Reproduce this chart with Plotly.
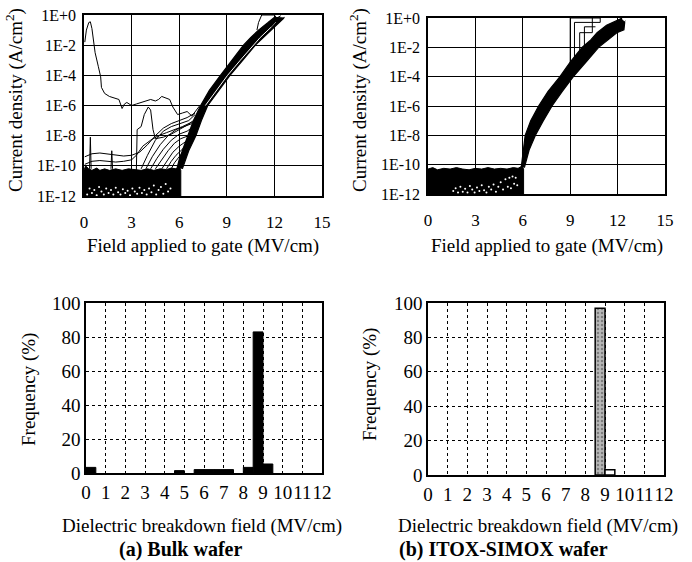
import plotly.graph_objects as go

W, H = 692, 562
SERIF = "Liberation Serif, Times New Roman, serif"

# ---------------- data: (a) Bulk wafer, I-E curves (log10 of J in A/cm2) ----------------
bulk_floor_E = [0.0, 0.1, 0.3, 0.5, 0.8, 1.0, 1.3, 1.6, 2.0, 2.4, 2.8, 3.2, 3.6, 4.0, 4.4, 4.8, 5.2, 5.5, 5.8, 6.0, 6.1]
bulk_floor_logJ = [-10.3, -10.0, -10.2, -10.3, -10.15, -10.3, -10.2, -10.3, -10.2, -10.3, -10.2, -10.25, -10.3, -10.2, -10.3, -10.2, -10.25, -10.15, -10.2, -10.1, -10.3]
bulk_speck_E = [0.2, 0.35, 0.5, 0.65, 0.8, 0.95, 1.1, 1.25, 1.4, 1.55, 1.7, 1.85, 2.0, 2.15, 2.3, 2.45, 2.6, 2.75, 2.9, 3.05, 3.2, 3.35, 3.5, 3.65, 3.8, 3.95, 4.1, 4.25, 4.4, 4.55, 4.7, 4.85, 5.0, 5.15, 5.3, 5.45]
bulk_speck_logJ = [-11.9, -11.5, -11.8, -11.6, -11.95, -11.4, -11.7, -11.9, -11.5, -11.8, -11.6, -11.9, -11.45, -11.75, -11.9, -11.55, -11.8, -11.65, -11.95, -11.5, -11.7, -11.85, -11.45, -11.8, -11.6, -11.9, -11.5, -11.75, -11.3, -11.9, -11.6, -11.4, -11.85, -11.2, -11.7, -11.5]
bulk_band_left_E = [5.85, 6.0, 6.3, 6.55, 6.9, 7.35, 7.9, 8.6, 9.3, 10.05, 10.5, 11.0, 11.6, 12.0]
bulk_band_left_logJ = [-10.2, -9.6, -8.7, -8.0, -7.0, -6.0, -5.0, -4.0, -3.0, -2.0, -1.5, -1.0, -0.5, -0.15]
bulk_band_right_E = [12.6, 12.3, 11.8, 11.3, 10.8, 10.0, 9.2, 8.5, 7.8, 7.4, 7.05, 6.6, 6.2]
bulk_band_right_logJ = [-0.2, -0.5, -1.0, -1.5, -2.0, -3.0, -4.0, -5.0, -6.0, -7.0, -8.0, -9.0, -10.2]
bulk_thread_E = [7.65, 8.35, 9.05, 9.85, 10.65, 11.1, 11.6, 12.1]
bulk_thread_logJ = [-6.0, -5.0, -4.0, -3.0, -2.0, -1.5, -1.0, -0.5]
bulk_lines_E = [
    [0.05, 0.15, 0.3, 0.4, 0.5, 0.6, 0.7, 0.9, 1.05, 1.1, 1.3, 1.6, 2.0, 2.2, 2.4, 2.55, 2.7, 3.0, 3.3, 3.6, 3.9, 4.2, 4.5, 4.7, 4.9, 5.1, 5.4, 5.6, 5.9, 6.2, 6.5, 6.8, 7.1, 7.3],
    [3.3, 3.35, 3.6, 3.8, 4.05, 4.2, 4.35, 4.5, 5.0, 5.5, 6.0, 6.5, 6.9],
    [0.05, 0.5, 1.0, 1.5, 2.0, 2.5, 3.0, 3.5, 4.0, 4.5, 5.0, 5.5, 6.0, 6.5, 7.0],
    [0.05, 0.5, 1.0, 1.5, 2.0, 2.5, 3.0, 3.3, 3.7, 4.2, 4.7, 5.2, 5.7, 6.2, 6.8],
    [3.6, 4.0, 4.5, 5.0, 5.5, 6.0, 6.6, 7.0],
    [3.9, 4.3, 4.8, 5.3, 5.8, 6.3, 6.8],
    [4.2, 4.6, 5.0, 5.5, 6.0, 6.5, 6.9],
    [4.5, 4.9, 5.3, 5.7, 6.1, 6.6, 6.8],
    [4.9, 5.2, 5.6, 6.0, 6.4, 6.7],
    [5.2, 5.5, 5.8, 6.2, 6.5],
    [5.5, 5.7, 6.0, 6.3],
    [0.35, 0.4, 0.45],
    [1.7, 1.75, 1.8],
    [11.5, 12.0, 12.4],
    [11.8, 12.2, 12.65],
    [10.9, 11.0, 11.2, 12.0, 12.2],
]
bulk_lines_logJ = [
    [-1.8, -1.0, -0.5, -0.45, -0.9, -1.6, -2.5, -3.4, -4.1, -4.8, -5.2, -5.4, -5.5, -5.6, -6.2, -5.9, -5.8, -6.0, -5.9, -5.8, -5.75, -5.6, -5.7, -5.6, -5.4, -5.5, -5.6, -6.1, -6.6, -6.5, -6.4, -6.7, -6.3, -6.0],
    [-10.3, -7.6, -7.4, -6.6, -6.1, -6.3, -7.6, -8.2, -8.1, -7.9, -7.6, -7.3, -7.0],
    [-9.4, -9.2, -9.15, -9.2, -9.3, -9.35, -9.3, -9.1, -8.6, -8.0, -7.5, -7.2, -7.0, -6.8, -6.5],
    [-9.9, -9.7, -9.65, -9.7, -9.75, -9.7, -9.6, -9.3, -8.7, -8.3, -8.0, -7.8, -7.6, -7.4, -7.1],
    [-10.2, -9.3, -8.3, -7.7, -7.4, -7.2, -7.0, -6.6],
    [-10.2, -9.4, -8.6, -8.0, -7.6, -7.4, -7.2],
    [-10.2, -9.5, -8.9, -8.3, -7.9, -7.7, -7.4],
    [-10.2, -9.6, -9.0, -8.5, -8.2, -8.0, -7.8],
    [-10.2, -9.7, -9.1, -8.7, -8.4, -8.1],
    [-10.2, -9.7, -9.3, -8.9, -8.5],
    [-10.2, -9.8, -9.4, -9.0],
    [-10.2, -8.1, -10.2],
    [-10.2, -9.0, -10.2],
    [-0.7, -0.3, -0.05],
    [-0.8, -0.45, -0.15],
    [-1.0, -0.5, 0.0, 0.0, -0.3],
]

# ---------------- data: (b) ITOX-SIMOX wafer, I-E curves ----------------
simox_floor_E = [0.0, 0.3, 0.6, 1.0, 1.4, 1.8, 2.2, 2.6, 3.0, 3.4, 3.8, 4.2, 4.6, 5.0, 5.4, 5.7, 5.95, 6.05]
simox_floor_logJ = [-10.3, -10.2, -10.35, -10.25, -10.3, -10.2, -10.3, -10.35, -10.25, -10.3, -10.2, -10.3, -10.25, -10.3, -10.2, -10.25, -10.1, -10.3]
simox_speck_E = [1.6, 1.75, 1.9, 2.05, 2.2, 2.35, 2.5, 2.65, 2.8, 2.95, 3.1, 3.25, 3.4, 3.55, 3.7, 3.85, 4.0, 4.15, 4.3, 4.45, 4.6, 4.75, 4.9, 5.05, 5.15, 5.25, 5.35, 5.45, 5.55, 5.65]
simox_speck_logJ = [-11.8, -11.6, -11.9, -11.5, -11.85, -11.65, -11.9, -11.45, -11.7, -11.9, -11.55, -11.8, -11.4, -11.75, -11.9, -11.5, -11.7, -11.35, -11.85, -11.5, -11.2, -11.7, -11.0, -11.5, -10.9, -11.6, -10.8, -11.3, -10.9, -11.4]
simox_band_left_E = [5.9, 6.15, 6.5, 7.0, 7.6, 8.35, 9.0, 9.75, 10.3, 10.7, 11.3, 11.9, 12.2]
simox_band_left_logJ = [-10.2, -8.0, -7.0, -6.0, -5.0, -4.0, -3.0, -2.0, -1.5, -1.0, -0.5, -0.2, -0.05]
simox_band_right_E = [12.45, 12.4, 11.95, 11.4, 10.8, 10.0, 9.2, 8.5, 7.85, 7.3, 6.8, 6.4, 6.1]
simox_band_right_logJ = [-0.3, -0.8, -1.0, -1.5, -2.0, -3.0, -4.0, -5.0, -6.0, -7.0, -8.0, -9.0, -10.2]
simox_lines_E = [
    [11.6, 12.0, 12.3],
    [11.9, 12.2, 12.5],
    [8.95, 9.0, 9.0, 10.9],
    [9.22, 9.27, 9.27, 10.9, 10.9],
    [9.55, 9.6, 9.6, 10.4, 10.4],
    [9.85, 9.9, 9.9, 10.6],
]
simox_lines_logJ = [
    [-0.6, -0.2, 0.0],
    [-0.9, -0.5, -0.2],
    [-3.7, -3.7, 0.0, 0.0],
    [-3.3, -3.3, -0.3, -0.3, 0.0],
    [-2.8, -2.8, -1.0, -1.0, 0.0],
    [-2.4, -2.4, -0.6, -0.6],
]

# ---------------- data: breakdown-field histograms (bin width 0.5 MV/cm) ----------------
bulk_bin_start = [0.0, 4.5, 5.5, 6.0, 6.5, 7.0, 8.0, 8.5, 9.0]
bulk_freq = [3.3, 1.4, 2.0, 2.0, 2.0, 2.0, 3.3, 83.0, 5.3]
simox_bin_start = [8.5, 9.0]
simox_freq = [97.0, 3.0]
simox_fill = ["#b8b8b8", "white"]

iv_ticks = [0, -2, -4, -6, -8, -10, -12]
iv_ticktext = ["1E+0", "1E-2", "1E-4", "1E-6", "1E-8", "1E-10", "1E-12"]
field_ticks = [0, 3, 6, 9, 12, 15]
hist_xticks = list(range(0, 13))
hist_yticks = [0, 20, 40, 60, 80, 100]


def pw(x):
    return x / W


def ph(y):
    return 1 - y / H


def lin(v):
    return [10 ** a for a in v]


fig = go.Figure()


def add_iv(xa, ya, floor_E, floor_J, speck_E, speck_J, bl_E, bl_J, br_E, br_J, lines_E, lines_J, thread=None):
    # dense noise floor
    fig.add_trace(go.Scatter(x=floor_E + [floor_E[-1], floor_E[0]], y=lin(floor_J + [-12.6, -12.6]),
                             fill="toself", fillcolor="black", mode="lines", line=dict(color="black", width=1),
                             xaxis=xa, yaxis=ya, hoverinfo="skip"))
    fig.add_trace(go.Scatter(x=speck_E, y=lin(speck_J), mode="markers",
                             marker=dict(color="white", size=2), xaxis=xa, yaxis=ya, hoverinfo="skip"))
    # main Fowler-Nordheim band
    fig.add_trace(go.Scatter(x=bl_E + br_E, y=lin(bl_J + br_J), fill="toself", fillcolor="black",
                             mode="lines", line=dict(color="black", width=1.2), xaxis=xa, yaxis=ya, hoverinfo="skip"))
    if thread is not None:
        fig.add_trace(go.Scatter(x=thread[0], y=lin(thread[1]), mode="lines",
                                 line=dict(color="white", width=1), xaxis=xa, yaxis=ya, hoverinfo="skip"))
    for ex, jy in zip(lines_E, lines_J):
        fig.add_trace(go.Scatter(x=ex, y=lin(jy), mode="lines", line=dict(color="black", width=1),
                                 xaxis=xa, yaxis=ya, hoverinfo="skip"))


add_iv("x", "y", bulk_floor_E, bulk_floor_logJ, bulk_speck_E, bulk_speck_logJ,
       bulk_band_left_E, bulk_band_left_logJ, bulk_band_right_E, bulk_band_right_logJ,
       bulk_lines_E, bulk_lines_logJ, thread=(bulk_thread_E, bulk_thread_logJ))
add_iv("x2", "y2", simox_floor_E, simox_floor_logJ, simox_speck_E, simox_speck_logJ,
       simox_band_left_E, simox_band_left_logJ, simox_band_right_E, simox_band_right_logJ,
       simox_lines_E, simox_lines_logJ)

fig.add_trace(go.Bar(x=bulk_bin_start, y=bulk_freq, width=0.5, offset=0,
                     marker=dict(color="black", line=dict(color="black", width=1)),
                     xaxis="x3", yaxis="y3", hoverinfo="skip"))
fig.add_trace(go.Bar(x=simox_bin_start, y=simox_freq, width=0.5, offset=0,
                     marker=dict(color=simox_fill, line=dict(color="black", width=1.5),
                                 pattern=dict(shape=[".", ""], fgcolor="#606060", size=4, solidity=0.3)),
                     xaxis="x4", yaxis="y4", hoverinfo="skip"))

iv_x = dict(range=[0, 15], tickvals=field_ticks, showgrid=True, gridcolor="black", gridwidth=1.3,
            showline=True, mirror=True, linecolor="black", linewidth=1.5, zeroline=False, automargin=False,
            ticks="", tickangle=0, tickfont=dict(family=SERIF, size=17, color="black"), ticklabelstandoff=10)
iv_y = dict(type="log", range=[-12, 0], tickvals=lin(iv_ticks), ticktext=iv_ticktext, automargin=False,
            showgrid=True, gridcolor="black", gridwidth=1.3, showline=True, mirror=True,
            linecolor="black", linewidth=1.5, zeroline=False, ticks="",
            tickfont=dict(family=SERIF, size=16, color="black"), ticklabelstandoff=3)
h_x = dict(range=[0, 12], tickvals=hist_xticks, showgrid=True, gridcolor="black", gridwidth=1,
           griddash="3px,3px", showline=True, mirror=True, linecolor="black", linewidth=1.5, automargin=False,
           zeroline=False, ticks="", tickangle=0, tickfont=dict(family=SERIF, size=19, color="black"),
           ticklabelstandoff=1)
h_y = dict(range=[0, 100], tickvals=hist_yticks, showgrid=True, gridcolor="black", gridwidth=1,
           griddash="3px,3px", showline=True, mirror=True, linecolor="black", linewidth=1.5, automargin=False,
           zeroline=False, ticks="", tickfont=dict(family=SERIF, size=19, color="black"), ticklabelstandoff=0)

fig.update_layout(
    width=W, height=H, margin=dict(l=0, r=0, t=0, b=0, autoexpand=False),
    paper_bgcolor="white", plot_bgcolor="white", showlegend=False, barmode="overlay",
    xaxis=dict(iv_x, domain=[pw(84), pw(322)], anchor="y"),
    yaxis=dict(iv_y, domain=[ph(196), ph(15)], anchor="x"),
    xaxis2=dict(iv_x, domain=[pw(428), pw(665)], anchor="y2"),
    yaxis2=dict(iv_y, domain=[ph(194), ph(18)], anchor="x2"),
    xaxis3=dict(h_x, domain=[pw(86), pw(322)], anchor="y3"),
    yaxis3=dict(h_y, domain=[ph(473), ph(303)], anchor="x3"),
    xaxis4=dict(h_x, domain=[pw(428), pw(664)], anchor="y4"),
    yaxis4=dict(h_y, domain=[ph(475), ph(303)], anchor="x4"),
)


def label(text, x, y, size=19, angle=0, bold=False):
    fig.add_annotation(text=f"<b>{text}</b>" if bold else text, x=pw(x), y=ph(y), xref="paper", yref="paper",
                       showarrow=False, textangle=angle, xanchor="center", yanchor="middle",
                       font=dict(family=SERIF, size=size, color="black"))


label("Current density (A/cm<sup>2</sup>)", 15, 100, angle=-90)
label("Current density (A/cm<sup>2</sup>)", 359, 100, angle=-90)
label("Field applied to gate (MV/cm)", 203, 246)
label("Field applied to gate (MV/cm)", 547, 246)
label("Frequency (%)", 29, 390, angle=-90)
label("Frequency (%)", 370, 385, angle=-90)
label("Dielectric breakdown field (MV/cm)", 202, 526)
label("Dielectric breakdown field (MV/cm)", 538, 526)
label("(a) Bulk wafer", 180, 549, size=20, bold=True)
label("(b) ITOX-SIMOX wafer", 503, 549, size=20, bold=True)

fig.write_html("out.html", config={"displayModeBar": False},
               post_script="document.body.style.margin='0';document.body.style.overflow='hidden';")
